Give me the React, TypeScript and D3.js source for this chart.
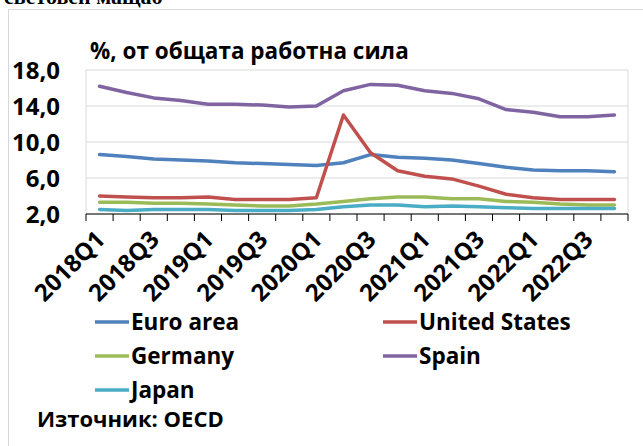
import React, { useRef, useEffect } from 'react';
import * as d3 from 'd3';

const W = 643;
const H = 446;

const quarters = [
  '2018Q1', '2018Q2', '2018Q3', '2018Q4',
  '2019Q1', '2019Q2', '2019Q3', '2019Q4',
  '2020Q1', '2020Q2', '2020Q3', '2020Q4',
  '2021Q1', '2021Q2', '2021Q3', '2021Q4',
  '2022Q1', '2022Q2', '2022Q3', '2022Q4',
];

const euroArea = [8.6, 8.4, 8.1, 8.0, 7.9, 7.7, 7.6, 7.5, 7.4, 7.7, 8.6, 8.3, 8.2, 8.0, 7.6, 7.2, 6.9, 6.8, 6.8, 6.7];
const unitedStates = [4.0, 3.9, 3.8, 3.8, 3.9, 3.6, 3.6, 3.6, 3.8, 13.0, 8.8, 6.8, 6.2, 5.9, 5.1, 4.2, 3.8, 3.6, 3.6, 3.6];
const germany = [3.3, 3.3, 3.2, 3.2, 3.1, 3.0, 2.9, 2.9, 3.1, 3.4, 3.7, 3.9, 3.9, 3.7, 3.7, 3.4, 3.3, 3.1, 3.0, 3.0];
const spain = [16.2, 15.5, 14.9, 14.6, 14.2, 14.2, 14.1, 13.9, 14.0, 15.7, 16.4, 16.3, 15.7, 15.4, 14.8, 13.6, 13.3, 12.8, 12.8, 13.0];
const japan = [2.5, 2.4, 2.5, 2.5, 2.5, 2.4, 2.4, 2.4, 2.5, 2.8, 3.0, 3.0, 2.8, 2.9, 2.8, 2.7, 2.6, 2.6, 2.6, 2.6];

const yTicks = [2, 6, 10, 14, 18];
const xLabels = quarters.filter((q, i) => i % 2 === 0);

const series = [
  { name: 'Euro area', values: euroArea, color: '#4F81BD' },
  { name: 'United States', values: unitedStates, color: '#C0504D' },
  { name: 'Germany', values: germany, color: '#9BBB59' },
  { name: 'Spain', values: spain, color: '#8064A2' },
  { name: 'Japan', values: japan, color: '#4BACC6' },
];

const FONT = "'Open Sans', sans-serif";

export default function App() {
  const svgRef = useRef<SVGSVGElement>(null);

  useEffect(() => {
    const svg = d3.select(svgRef.current);
    svg.selectAll('*').remove();

    const left = 86, right = 628, top = 70, bottom = 214;
    const x = d3.scaleBand<string>().domain(quarters).range([left, right]).padding(0);
    const y = d3.scaleLinear().domain([2, 18]).range([bottom, top]);
    const cx = (q: string) => (x(q) as number) + x.bandwidth() / 2;

    svg.append('rect').attr('width', W).attr('height', H).attr('fill', '#fff');

    // heading of the page, cut off by the top edge as in the source
    svg.append('text')
      .attr('x', 4).attr('y', 4)
      .attr('font-family', "'Liberation Serif', serif")
      .attr('font-weight', 'bold')
      .attr('font-size', 22)
      .text('световен мащаб');

    // chart frame
    svg.append('rect')
      .attr('x', 8.5).attr('y', 9.5).attr('width', 700).attr('height', 500)
      .attr('fill', 'none').attr('stroke', '#d9d9d9');

    // title
    svg.append('text')
      .attr('x', 90).attr('y', 59)
      .attr('font-family', FONT).attr('font-weight', 'bold').attr('font-size', 22.5)
      .text('%, от общата работна сила');

    // plot frame + grid
    svg.append('rect')
      .attr('x', left).attr('y', top).attr('width', right - left).attr('height', bottom - top)
      .attr('fill', 'none').attr('stroke', '#d9d9d9');
    svg.append('g').selectAll('line')
      .data(yTicks.slice(1, -1))
      .join('line')
      .attr('x1', left).attr('x2', right)
      .attr('y1', d => y(d)).attr('y2', d => y(d))
      .attr('stroke', '#d9d9d9');

    // y labels
    svg.append('g').selectAll('text')
      .data(yTicks)
      .join('text')
      .attr('x', 60).attr('y', d => y(d))
      .attr('dy', '0.36em')
      .attr('text-anchor', 'end')
      .attr('font-family', FONT).attr('font-weight', 'bold').attr('font-size', 24)
      .text(d => d3.format('.1f')(d).replace('.', ','));

    // x axis
    const tickPos = quarters.map(q => x(q) as number).concat([right]);
    svg.append('line')
      .attr('x1', left).attr('x2', right).attr('y1', bottom).attr('y2', bottom)
      .attr('stroke', '#000').attr('stroke-width', 1);
    svg.append('g').selectAll('line')
      .data(tickPos)
      .join('line')
      .attr('x1', d => d).attr('x2', d => d)
      .attr('y1', bottom).attr('y2', bottom + 7)
      .attr('stroke', '#000');

    svg.append('g').selectAll('text')
      .data(xLabels)
      .join('text')
      .attr('transform', d => `translate(${cx(d) + 7},${bottom + 27}) rotate(-45)`)
      .attr('text-anchor', 'end')
      .attr('font-family', FONT).attr('font-weight', 'bold').attr('font-size', 24)
      .text(d => d);

    // lines
    const line = d3.line<number>()
      .x((d, i) => cx(quarters[i]))
      .y(d => y(d));
    svg.append('g').selectAll('path')
      .data(series)
      .join('path')
      .attr('d', d => line(d.values))
      .attr('fill', 'none')
      .attr('stroke', d => d.color)
      .attr('stroke-width', 3.5)
      .attr('stroke-linejoin', 'round')
      .attr('stroke-linecap', 'round');

    // legend
    const legendPos = [
      [95, 322], [383, 322], [95, 356], [383, 356], [95, 390],
    ];
    const lg = svg.append('g').selectAll('g')
      .data(series)
      .join('g')
      .attr('transform', (d, i) => `translate(${legendPos[i][0]},${legendPos[i][1]})`);
    lg.append('line')
      .attr('x1', 0).attr('x2', 34).attr('y1', 0).attr('y2', 0)
      .attr('stroke', d => d.color).attr('stroke-width', 3.5);
    lg.append('text')
      .attr('x', 36).attr('dy', '0.36em')
      .attr('font-family', FONT).attr('font-weight', 'bold').attr('font-size', 22.5)
      .text(d => d.name);

    svg.append('text')
      .attr('x', 37).attr('y', 427)
      .attr('font-family', FONT).attr('font-weight', 'bold').attr('font-size', 22)
      .text('Източник: OECD');
  }, []);

  return (
    <svg
      ref={svgRef}
      width={W}
      height={H}
      style={{ position: 'absolute', left: 0, top: 0, display: 'block' }}
    />
  );
}
